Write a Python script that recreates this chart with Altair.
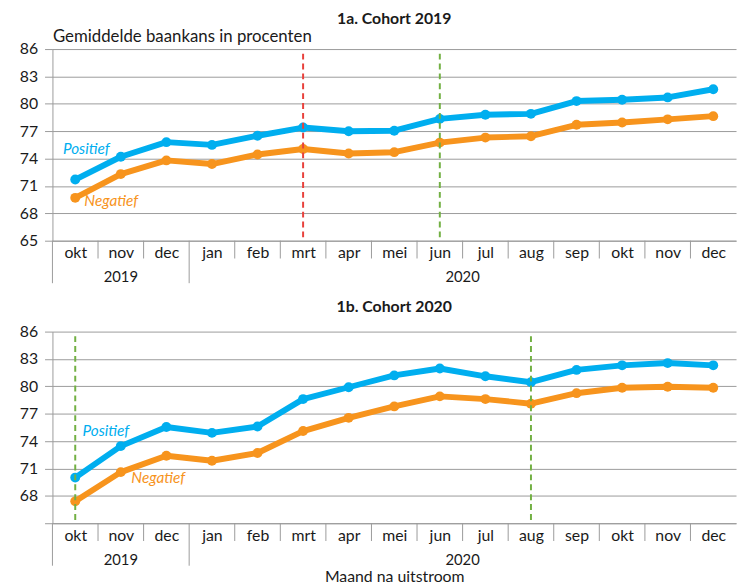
import altair as alt
import pandas as pd

months = ["okt", "nov", "dec", "jan", "feb", "mrt", "apr", "mei", "jun",
          "jul", "aug", "sep", "okt", "nov", "dec"]
year_labels = ["2019", "2020"]
year_centers = [1, 8.5]
y_ticks = [65, 68, 71, 74, 77, 80, 83, 86]

pos_2019 = [71.7, 74.2, 75.8, 75.5, 76.5, 77.4, 77.0, 77.05, 78.35, 78.8, 78.9, 80.3, 80.45, 80.7, 81.6]
neg_2019 = [69.7, 72.3, 73.8, 73.4, 74.45, 75.05, 74.55, 74.7, 75.75, 76.3, 76.45, 77.7, 77.95, 78.3, 78.65]
pos_2020 = [70.0, 73.45, 75.55, 74.9, 75.6, 78.6, 79.9, 81.2, 81.95, 81.1, 80.45, 81.8, 82.3, 82.55, 82.3]
neg_2020 = [67.4, 70.6, 72.4, 71.85, 72.7, 75.1, 76.55, 77.8, 78.9, 78.6, 78.1, 79.25, 79.85, 79.95, 79.85]

series_names = ["Positief", "Negatief"]
BLUE = "#00AEEF"
ORANGE = "#F7941D"
RED = "#E8413C"
GREEN = "#72B043"
GRID = "#9a9a9a"
TXT = "#1a1a1a"

W = 692
H = 194

month_expr = "[" + ",".join("'%s'" % m for m in months) + "][datum.value]"


def panel(title, pos, neg, vlines, label_pos, top):
    rows = []
    for i in range(len(months)):
        rows.append({"i": i, "v": pos[i], "s": "Positief"})
        rows.append({"i": i, "v": neg[i], "s": "Negatief"})
    df = pd.DataFrame(rows)

    xscale = alt.Scale(domain=[-0.5, 14.5], nice=False, zero=False)
    yscale = alt.Scale(domain=[65, 86], nice=False, zero=False)

    xaxis_kw = dict(values=list(range(15)), tickCount=20, labelExpr=month_expr, ticks=False,
                    grid=False, domain=True, domainColor=GRID, labelFontSize=16, labelPadding=4,
                    labelColor=TXT, labelFlush=False, labelOverlap=False)
    if top:
        xaxis = alt.Axis(title=None, **xaxis_kw)
    else:
        xaxis = alt.Axis(title="Maand na uitstroom", titleFontSize=16, titleFontWeight="normal",
                         titleColor=TXT, titleY=54, titleBaseline="middle", **xaxis_kw)

    yaxis_kw = dict(values=y_ticks, tickCount=10, labelOverlap=False, grid=True, gridColor=GRID,
                    gridOpacity=1, tickColor=GRID, tickSize=8, domainColor=GRID, labelFontSize=16,
                    labelColor=TXT, labelPadding=7)
    if top:
        yaxis = alt.Axis(title="Gemiddelde baankans in procenten", titleAngle=0, titleAlign="left",
                         titleX=0, titleY=-8, titleBaseline="alphabetic", titleFontSize=17,
                         titleFontWeight="normal", titleColor=TXT, **yaxis_kw)
    else:
        yaxis = alt.Axis(title=None, labelExpr="datum.value == 65 ? '' : datum.label", **yaxis_kw)

    color = alt.Color("s:N", scale=alt.Scale(domain=series_names, range=[BLUE, ORANGE]), legend=None)
    base = alt.Chart(df).encode(
        x=alt.X("i:Q", scale=xscale, axis=xaxis),
        y=alt.Y("v:Q", scale=yscale, axis=yaxis),
        color=color,
    )
    lines = base.mark_line(strokeWidth=6, strokeJoin="round")
    pts = base.mark_circle(size=100, opacity=1)

    vdf = pd.DataFrame({"i": [v[0] for v in vlines], "c": [v[1] for v in vlines],
                        "y1": [85.5] * len(vlines), "y2": [65] * len(vlines)})
    vrules = alt.Chart(vdf).mark_rule(strokeDash=[6, 4], strokeWidth=2).encode(
        x=alt.X("i:Q", scale=xscale), y=alt.Y("y1:Q", scale=yscale), y2="y2:Q",
        color=alt.Color("c:N", scale=None))

    short_div = pd.DataFrame({"i": [0.5, 1.5, 3.5, 4.5, 5.5, 6.5, 7.5, 8.5, 9.5, 10.5, 11.5, 12.5, 13.5]})
    long_div = pd.DataFrame({"i": [-0.5, 2.5]})
    sd = alt.Chart(short_div).mark_rule(color=GRID, strokeWidth=1).encode(
        x=alt.X("i:Q", scale=xscale), y=alt.value(H), y2=alt.value(H + 18))
    ld = alt.Chart(long_div).mark_rule(color=GRID, strokeWidth=1).encode(
        x=alt.X("i:Q", scale=xscale), y=alt.value(H), y2=alt.value(H + 43))

    ydf = pd.DataFrame({"i": year_centers, "t": year_labels})
    ytext = alt.Chart(ydf).mark_text(fontSize=15, color=TXT, baseline="middle").encode(
        x=alt.X("i:Q", scale=xscale), y=alt.value(H + 37), text="t:N")

    ldf = pd.DataFrame({"i": [label_pos[0][0], label_pos[1][0]],
                        "v": [label_pos[0][1], label_pos[1][1]],
                        "s": series_names})
    ltext = alt.Chart(ldf).mark_text(fontSize=15.5, fontStyle="italic", align="left",
                                     baseline="middle").encode(
        x=alt.X("i:Q", scale=xscale), y=alt.Y("v:Q", scale=yscale), text="s:N", color=color)

    return alt.layer(lines, pts, vrules, sd, ld, ytext, ltext).properties(
        width=W, height=H,
        title=alt.TitleParams(title, fontSize=16, fontWeight="bold", anchor="middle",
                              frame="group", color=TXT, offset=0 if top else 9),
    )


top = panel("1a. Cohort 2019", pos_2019, neg_2019, [(5, RED), (8, GREEN)],
            [(-0.27, 75.0), (0.2, 69.35)], True)
bottom = panel("1b. Cohort 2020", pos_2020, neg_2020, [(0, GREEN), (10, GREEN)],
               [(0.16, 75.1), (1.23, 70.0)], False)

chart = alt.vconcat(top, bottom, spacing=14).properties(
    padding={"left": 11, "right": 3, "top": 0, "bottom": 0}
).configure(font="Lato").configure_view(stroke=None)

chart.save("out.html", embed_options={"renderer": "svg", "actions": False})
